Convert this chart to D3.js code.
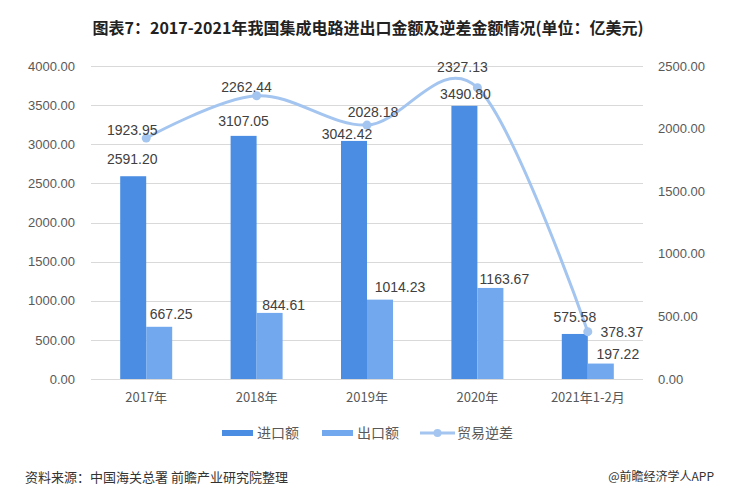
<!DOCTYPE html>
<html>
<head>
<meta charset="utf-8">
<script src="https://cdn.jsdelivr.net/npm/d3@7/dist/d3.min.js"></script>
<style>
  html, body { margin: 0; padding: 0; background: #fff; }
  svg { display: block; }
</style>
</head>
<body>
<svg id="chart" width="735" height="499"></svg>
<script>
// ---------- data ----------
const categories = ["2017年", "2018年", "2019年", "2020年", "2021年1-2月"];
const importValues = [2591.20, 3107.05, 3042.42, 3490.80, 575.58];
const exportValues = [667.25, 844.61, 1014.23, 1163.67, 197.22];
const deficitValues = [1923.95, 2262.44, 2028.18, 2327.13, 378.37];
const leftTicks = [0, 500, 1000, 1500, 2000, 2500, 3000, 3500, 4000];
const rightTicks = [0, 500, 1000, 1500, 2000, 2500];
const seriesNames = ["进口额", "出口额", "贸易逆差"];
const titleText = "图表7：2017-2021年我国集成电路进出口金额及逆差金额情况(单位：亿美元)";
const sourceText = "资料来源：中国海关总署 前瞻产业研究院整理";
const creditText = "@前瞻经济学人APP";

// label nudges (style, not data)
const importLabelOffset = [[-1,-17],[0,-15],[-7,-7],[1,-12],[0,-17]];
const exportLabelOffset = [[12,-13],[14,-8],[20,-13],[14,-9],[17,-9]];
const lineLabelOffset = [[-14,-8],[-10,-9],[6,-13],[-15,-21],[34,0]];

// ---------- layout ----------
const colImport = "#4a8de2";
const colExport = "#72a8ee";
const colLine = "#a3c5f0";
const numFont = "'Liberation Sans', Arial, sans-serif";
const cjkFont = "'Noto Sans CJK SC', 'Liberation Sans', sans-serif";

const svg = d3.select("#chart");
const plot = { left: 91, right: 643, top: 66, bottom: 379 };

const x = d3.scaleBand().domain(categories).range([plot.left, plot.right]).paddingInner(0).paddingOuter(0);
const yL = d3.scaleLinear().domain([0, 4000]).range([plot.bottom, plot.top]);
const yR = d3.scaleLinear().domain([0, 2500]).range([plot.bottom, plot.top]);
const barW = 26;

// title
svg.append("text")
  .attr("x", 368).attr("y", 28).attr("dy", "0.35em")
  .attr("text-anchor", "middle")
  .attr("font-family", cjkFont).attr("font-weight", "bold")
  .attr("font-size", 16).attr("fill", "#222")
  .text(titleText);

// gridlines
svg.append("g").selectAll("line").data(leftTicks).join("line")
  .attr("x1", plot.left).attr("x2", plot.right)
  .attr("y1", d => Math.round(yL(d)) + 0.5).attr("y2", d => Math.round(yL(d)) + 0.5)
  .attr("stroke", "#d9d9d9").attr("stroke-width", 1);

// left axis
const axL = svg.append("g").attr("transform", `translate(${plot.left},0)`)
  .call(d3.axisLeft(yL).tickValues(leftTicks).tickFormat(d3.format(".2f")).tickSize(0).tickPadding(16));
axL.select(".domain").remove();
axL.selectAll("text").attr("font-family", numFont).attr("font-size", 13).attr("fill", "#595959");

// right axis
const axR = svg.append("g").attr("transform", `translate(${plot.right},0)`)
  .call(d3.axisRight(yR).tickValues(rightTicks).tickFormat(d3.format(".2f")).tickSize(0).tickPadding(15));
axR.select(".domain").remove();
axR.selectAll("text").attr("font-family", numFont).attr("font-size", 13).attr("fill", "#595959");

// bottom axis labels
const axB = svg.append("g").attr("transform", `translate(0,${plot.bottom})`)
  .call(d3.axisBottom(x).tickSize(0).tickPadding(14));
axB.select(".domain").remove();
axB.selectAll("text").attr("font-family", cjkFont).attr("font-size", 13).attr("fill", "#595959");

// bars
const cx = d => x(d) + x.bandwidth() / 2;
svg.append("g").selectAll("rect").data(categories).join("rect")
  .attr("x", d => cx(d) - barW).attr("width", barW)
  .attr("y", (d, i) => yL(importValues[i])).attr("height", (d, i) => yL(0) - yL(importValues[i]))
  .attr("fill", colImport);
svg.append("g").selectAll("rect").data(categories).join("rect")
  .attr("x", d => cx(d)).attr("width", barW)
  .attr("y", (d, i) => yL(exportValues[i])).attr("height", (d, i) => yL(0) - yL(exportValues[i]))
  .attr("fill", colExport);

// line
const pts = categories.map((c, i) => [cx(c), yR(deficitValues[i])]);
svg.append("path")
  .attr("d", d3.line().curve(d3.curveCardinal.tension(0))(pts))
  .attr("fill", "none").attr("stroke", colLine).attr("stroke-width", 3).attr("stroke-linecap", "round");
svg.append("g").selectAll("circle").data(pts).join("circle")
  .attr("cx", d => d[0]).attr("cy", d => d[1]).attr("r", 4.5).attr("fill", colLine);

// data labels
const fmt = d3.format(".2f");
const labelStyle = sel => sel.attr("font-family", numFont).attr("font-size", 14)
  .attr("fill", "#404040").attr("text-anchor", "middle").attr("dy", "0.35em");
svg.append("g").selectAll("text").data(categories).join("text")
  .attr("x", (d, i) => cx(d) - barW / 2 + importLabelOffset[i][0])
  .attr("y", (d, i) => yL(importValues[i]) + importLabelOffset[i][1])
  .text((d, i) => fmt(importValues[i])).call(labelStyle);
svg.append("g").selectAll("text").data(categories).join("text")
  .attr("x", (d, i) => cx(d) + barW / 2 + exportLabelOffset[i][0])
  .attr("y", (d, i) => yL(exportValues[i]) + exportLabelOffset[i][1])
  .text((d, i) => fmt(exportValues[i])).call(labelStyle);
svg.append("g").selectAll("text").data(pts).join("text")
  .attr("x", (d, i) => d[0] + lineLabelOffset[i][0])
  .attr("y", (d, i) => d[1] + lineLabelOffset[i][1])
  .text((d, i) => fmt(deficitValues[i])).call(labelStyle);

// legend
const lg = svg.append("g").attr("font-family", cjkFont).attr("font-size", 14).attr("fill", "#595959");
const legendItems = [
  { name: seriesNames[0], x: 222, type: "rect", color: colImport },
  { name: seriesNames[1], x: 322, type: "rect", color: colExport },
  { name: seriesNames[2], x: 420, type: "line", color: colLine }
];
const ly = 433;
legendItems.forEach(it => {
  if (it.type === "rect") {
    lg.append("rect").attr("x", it.x).attr("y", ly - 3).attr("width", 31).attr("height", 6).attr("fill", it.color);
    lg.append("text").attr("x", it.x + 35).attr("y", ly).attr("dy", "0.35em").text(it.name);
  } else {
    lg.append("line").attr("x1", it.x).attr("x2", it.x + 35).attr("y1", ly).attr("y2", ly)
      .attr("stroke", it.color).attr("stroke-width", 3);
    lg.append("circle").attr("cx", it.x + 17.5).attr("cy", ly).attr("r", 4).attr("fill", it.color);
    lg.append("text").attr("x", it.x + 37).attr("y", ly).attr("dy", "0.35em").text(it.name);
  }
});

// footer
svg.append("text").attr("x", 25).attr("y", 477).attr("dy", "0.35em")
  .attr("font-family", cjkFont).attr("font-size", 13).attr("fill", "#333").text(sourceText);
svg.append("text").attr("x", 714).attr("y", 477).attr("dy", "0.35em").attr("text-anchor", "end")
  .attr("font-family", cjkFont).attr("font-size", 12).attr("fill", "#333").text(creditText);
</script>
</body>
</html>
